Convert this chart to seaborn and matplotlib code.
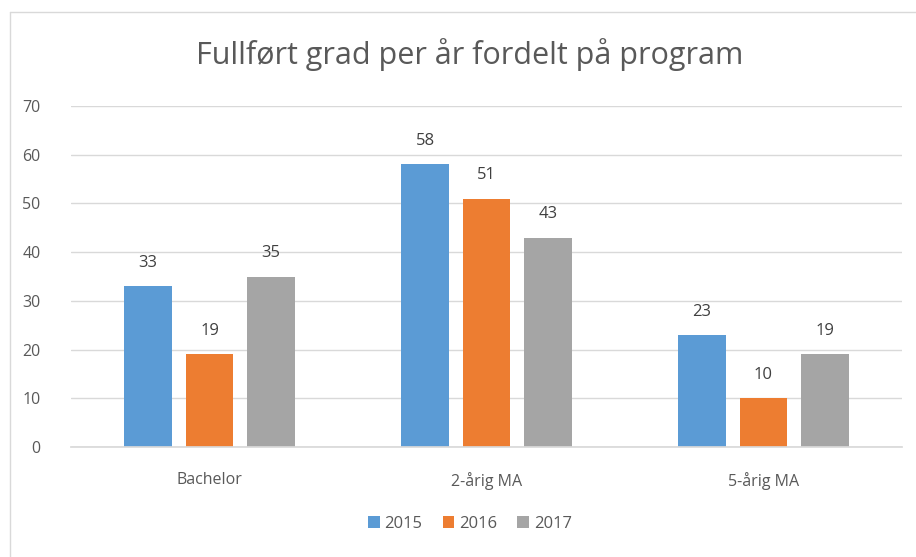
import matplotlib
matplotlib.use("Agg")
import matplotlib.pyplot as plt
import seaborn as sns
import pandas as pd
from matplotlib.lines import Line2D
from matplotlib.patches import Patch

programs = ["Bachelor", "2-årig MA", "5-årig MA"]
years = ["2015", "2016", "2017"]
v2015 = [33, 58, 23]
v2016 = [19, 51, 10]
v2017 = [35, 43, 19]
yticks = [0, 10, 20, 30, 40, 50, 60, 70]
title = "Fullført grad per år fordelt på program"
colors = ["#5B9BD5", "#ED7D31", "#A5A5A5"]

rows = []
for y, vals in zip(years, [v2015, v2016, v2017]):
    for p, v in zip(programs, vals):
        rows.append({"program": p, "year": y, "value": v})
df = pd.DataFrame(rows)

sns.set_theme(style="white")
plt.rcParams["font.family"] = ["Open Sans", "DejaVu Sans"]

fig = plt.figure(figsize=(9.16, 5.57), dpi=100)
ax = fig.add_axes([71/916, 1-447/557, 831/916, (447-106)/557])

sns.barplot(data=df, x="program", y="value", hue="year", order=programs,
            hue_order=years, palette=colors, width=0.666, gap=0.22,
            saturation=1, ax=ax, legend=False, errorbar=None,
            edgecolor="none", linewidth=0)

ax.set_xlim(-0.5, 2.5)
ax.set_ylim(0, 70)
ax.set_yticks(yticks)
ax.set_yticklabels([str(t) for t in yticks])
ax.yaxis.grid(True, color="#D9D9D9", linewidth=1)
ax.set_axisbelow(True)
for s in ["top", "right", "left"]:
    ax.spines[s].set_visible(False)
ax.spines["bottom"].set_color("#D9D9D9")
ax.set_xlabel("")
ax.set_ylabel("")
ax.tick_params(axis="y", colors="#595959", labelsize=11.5, length=0, pad=22)
ax.tick_params(axis="x", colors="#595959", labelsize=11.5, length=0, pad=18)

for cont in ax.containers:
    ax.bar_label(cont, padding=11, fontsize=12, color="#404040")

fig.text(470/916, 1-55/557, title, ha="center", va="center",
         fontsize=22, color="#595959", family=["Open Sans", "DejaVu Sans"])

handles = [Patch(facecolor=c, edgecolor="none") for c in colors]
fig.legend(handles, years, loc="center", bbox_to_anchor=(470/916, 1-524/557),
           ncol=3, frameon=False, fontsize=12, handlelength=0.7,
           handleheight=0.7, handletextpad=0.3, columnspacing=1.2,
           labelcolor="#595959")

# chart frame lines
fig.add_artist(Line2D([10/916, 10/916], [0, 1-12/557], transform=fig.transFigure,
                      color="#D9D9D9", linewidth=1))
fig.add_artist(Line2D([10/916, 1], [1-12/557, 1-12/557], transform=fig.transFigure,
                      color="#D9D9D9", linewidth=1))

fig.savefig("out.png", dpi=100, facecolor="white")
